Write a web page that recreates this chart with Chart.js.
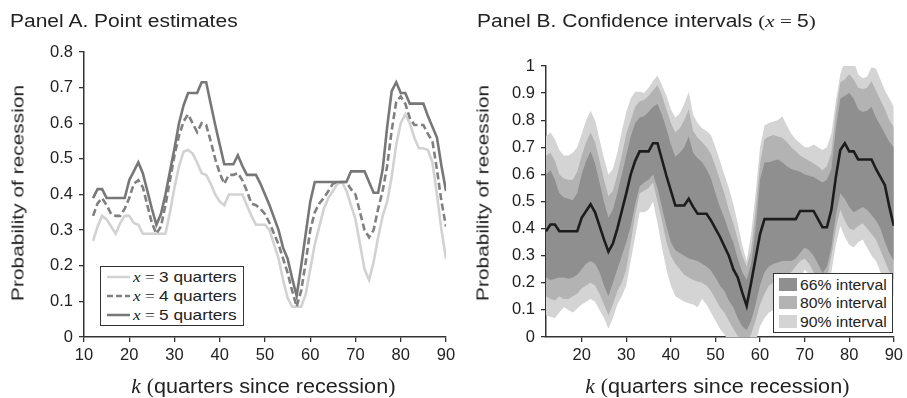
<!DOCTYPE html>
<html>
<head>
<meta charset="utf-8">
<script src="https://cdn.jsdelivr.net/npm/chart.js@4.4.1/dist/chart.umd.min.js"></script>
<style>
  body { margin: 0; background: #fff; }
  #page { position: relative; width: 907px; height: 398px; overflow: hidden;
          font-family: "Liberation Sans", Arial, sans-serif; color: #222; }
  canvas { position: absolute; left: 0; top: 0; }
  .txt { position: absolute; white-space: nowrap; line-height: 1; }
  .m { font-family: "Liberation Serif", "DejaVu Serif", serif; }
  .mi { font-family: "Liberation Serif", "DejaVu Serif", serif; font-style: italic; }
  .legend { position: absolute; background: #fff; border: 1.5px solid #333; box-sizing: border-box; }
  .row { position: absolute; left: 0; right: 0; height: 18px; line-height: 18px; font-size: 15px; white-space: nowrap; }
  .row span.lab { position: absolute; display: inline-block; transform-origin: left center; }
  .sw { position: absolute; left: 5px; top: 2.5px; width: 18px; height: 13px; }
</style>
</head>
<body>
<div id="page">
  <canvas id="chartA" width="907" height="398"></canvas>
  <canvas id="chartB" width="907" height="398"></canvas>

  <div class="txt" style="left:10px; top:13px; font-size:17.5px; transform:scaleX(1.2); transform-origin:left top;">Panel A. Point estimates</div>
  <div class="txt" style="left:477px; top:13px; font-size:17.5px; transform:scaleX(1.2); transform-origin:left top;">Panel B. Confidence intervals <span class="m">(</span><span class="mi">x</span><span class="m"> = </span>5<span class="m">)</span></div>

  <div class="txt" style="left:18px; top:193px; font-size:17px; transform:translate(-50%,-50%) rotate(-90deg) scaleX(1.23);">Probability of recession</div>
  <div class="txt" style="left:483px; top:193px; font-size:17px; transform:translate(-50%,-50%) rotate(-90deg) scaleX(1.23);">Probability of recession</div>

  <div class="txt" style="left:63px; top:376px; width:400px; text-align:center; font-size:20px;"><span style="display:inline-block; transform:scaleX(1.08);"><span class="mi">k</span> <span class="m">(</span>quarters since recession<span class="m">)</span></span></div>
  <div class="txt" style="left:517px; top:376px; width:400px; text-align:center; font-size:20px;"><span style="display:inline-block; transform:scaleX(1.08);"><span class="mi">k</span> <span class="m">(</span>quarters since recession<span class="m">)</span></span></div>

  <div class="legend" style="left:100px; top:266px; width:144px; height:60px;">
    <div class="row" style="top:0.5px;">
      <svg width="23" height="18" style="position:absolute; left:5.5px; top:0;"><line x1="0" y1="9" x2="23" y2="9" stroke="#d2d2d2" stroke-width="2.5"/></svg>
      <span class="lab" style="left:31.5px; transform:scaleX(1.15);"><span class="mi">x</span><span class="m"> = </span>3 quarters</span>
    </div>
    <div class="row" style="top:19.5px;">
      <svg width="23" height="18" style="position:absolute; left:5.5px; top:0;"><line x1="0" y1="9" x2="23" y2="9" stroke="#808080" stroke-width="2.5" stroke-dasharray="6 3"/></svg>
      <span class="lab" style="left:31.5px; transform:scaleX(1.15);"><span class="mi">x</span><span class="m"> = </span>4 quarters</span>
    </div>
    <div class="row" style="top:38.5px;">
      <svg width="23" height="18" style="position:absolute; left:5.5px; top:0;"><line x1="0" y1="9" x2="23" y2="9" stroke="#777777" stroke-width="2.5"/></svg>
      <span class="lab" style="left:31.5px; transform:scaleX(1.15);"><span class="mi">x</span><span class="m"> = </span>5 quarters</span>
    </div>
  </div>

  <div class="legend" style="left:773px; top:273px; width:120px; height:60px;">
    <div class="row" style="top:1.5px;"><div class="sw" style="background:#8f8f8f;"></div><span class="lab" style="left:25.5px; transform:scaleX(1.05);">66% interval</span></div>
    <div class="row" style="top:19.5px;"><div class="sw" style="background:#b3b3b3;"></div><span class="lab" style="left:25.5px; transform:scaleX(1.05);">80% interval</span></div>
    <div class="row" style="top:38.5px;"><div class="sw" style="background:#d4d4d4;"></div><span class="lab" style="left:25.5px; transform:scaleX(1.05);">90% interval</span></div>
  </div>
</div>

<script>
// quarters since recession
const quarters = [12, 13, 14, 15, 16, 17, 18, 19, 20, 21, 22, 23, 24, 25, 26, 27, 28, 29, 30, 31,
    32, 33, 34, 35, 36, 37, 38, 39, 40, 41, 42, 43, 44, 45, 46, 47, 48, 49, 50, 51,
    52, 53, 54, 55, 56, 57, 58, 59, 60, 61, 62, 63, 64, 65, 66, 67, 68, 69, 70, 71,
    72, 73, 74, 75, 76, 77, 78, 79, 80, 81, 82, 83, 84, 85, 86, 87, 88, 89, 90]

// panel A point estimates
let probX3 = [0.27, 0.31, 0.34, 0.33, 0.31, 0.29, 0.32, 0.34, 0.34, 0.32,
    0.315, 0.29, 0.29, 0.29, 0.29, 0.29, 0.29, 0.35, 0.42, 0.48,
    0.52, 0.525, 0.515, 0.49, 0.46, 0.455, 0.43, 0.40, 0.38, 0.37,
    0.40, 0.40, 0.40, 0.40, 0.37, 0.34, 0.315, 0.315, 0.315, 0.30,
    0.26, 0.22, 0.16, 0.11, 0.085, 0.085, 0.085, 0.12, 0.19, 0.26,
    0.31, 0.36, 0.39, 0.41, 0.43, 0.435, 0.41, 0.37, 0.33, 0.26,
    0.19, 0.16, 0.21, 0.28, 0.34, 0.38, 0.45, 0.54, 0.60, 0.625,
    0.60, 0.56, 0.53, 0.53, 0.525, 0.49, 0.40, 0.30, 0.22]
let probX4 = [0.34, 0.375, 0.39, 0.37, 0.345, 0.34, 0.34, 0.36, 0.39, 0.43,
    0.44, 0.42, 0.37, 0.32, 0.29, 0.31, 0.37, 0.44, 0.51, 0.565,
    0.605, 0.625, 0.60, 0.575, 0.60, 0.595, 0.55, 0.50, 0.46, 0.43,
    0.455, 0.455, 0.46, 0.44, 0.41, 0.375, 0.37, 0.36, 0.345, 0.32,
    0.29, 0.26, 0.22, 0.18, 0.13, 0.085, 0.13, 0.21, 0.30, 0.35,
    0.375, 0.39, 0.41, 0.43, 0.435, 0.435, 0.435, 0.415, 0.40, 0.35,
    0.30, 0.28, 0.30, 0.36, 0.41, 0.48, 0.58, 0.66, 0.675, 0.655,
    0.615, 0.595, 0.595, 0.595, 0.57, 0.55, 0.47, 0.38, 0.31]
let probX5 = [0.39, 0.415, 0.415, 0.39, 0.39, 0.39, 0.39, 0.39, 0.44, 0.465,
    0.49, 0.46, 0.41, 0.36, 0.315, 0.345, 0.40, 0.465, 0.53, 0.60,
    0.65, 0.685, 0.685, 0.685, 0.715, 0.715, 0.655, 0.595, 0.54, 0.485,
    0.485, 0.485, 0.51, 0.48, 0.455, 0.455, 0.455, 0.43, 0.40, 0.37,
    0.335, 0.30, 0.25, 0.22, 0.165, 0.115, 0.20, 0.29, 0.38, 0.435,
    0.435, 0.435, 0.435, 0.435, 0.435, 0.435, 0.435, 0.465, 0.465, 0.465,
    0.465, 0.435, 0.405, 0.405, 0.47, 0.59, 0.69, 0.715, 0.685, 0.685,
    0.655, 0.655, 0.655, 0.655, 0.62, 0.59, 0.56, 0.48, 0.41]

// panel B interval bounds (x = 5)
let upper90 = [0.74, 0.755, 0.73, 0.69, 0.67, 0.67, 0.68, 0.70, 0.75, 0.80,
    0.835, 0.80, 0.73, 0.66, 0.60, 0.62, 0.68, 0.76, 0.83, 0.88,
    0.905, 0.905, 0.90, 0.92, 0.945, 0.965, 0.93, 0.89, 0.84, 0.81,
    0.825, 0.86, 0.905, 0.82, 0.79, 0.77, 0.76, 0.745, 0.70, 0.65,
    0.60, 0.55, 0.49, 0.42, 0.34, 0.28, 0.38, 0.53, 0.70, 0.78,
    0.79, 0.795, 0.80, 0.815, 0.78, 0.75, 0.73, 0.715, 0.70, 0.70,
    0.71, 0.70, 0.69, 0.70, 0.75, 0.87, 0.97, 1.02, 1.02, 1.02,
    0.97, 0.955, 0.96, 0.995, 0.99, 0.95, 0.91, 0.88, 0.85]
let upper80 = [0.67, 0.68, 0.65, 0.60, 0.585, 0.58, 0.58, 0.61, 0.67, 0.72,
    0.755, 0.72, 0.65, 0.58, 0.52, 0.54, 0.60, 0.67, 0.75, 0.80,
    0.85, 0.87, 0.875, 0.89, 0.91, 0.93, 0.89, 0.84, 0.79, 0.755,
    0.77, 0.80, 0.84, 0.76, 0.735, 0.72, 0.70, 0.675, 0.63, 0.58,
    0.53, 0.47, 0.42, 0.36, 0.30, 0.26, 0.32, 0.47, 0.64, 0.73,
    0.74, 0.745, 0.74, 0.735, 0.72, 0.70, 0.685, 0.67, 0.66, 0.65,
    0.64, 0.63, 0.615, 0.63, 0.68, 0.83, 0.94, 0.95, 0.97, 0.95,
    0.92, 0.915, 0.92, 0.945, 0.91, 0.875, 0.84, 0.80, 0.775]
let upper66 = [0.60, 0.615, 0.58, 0.53, 0.515, 0.51, 0.505, 0.53, 0.60, 0.65,
    0.685, 0.64, 0.57, 0.50, 0.44, 0.47, 0.53, 0.60, 0.67, 0.74,
    0.79, 0.81, 0.815, 0.83, 0.85, 0.86, 0.82, 0.77, 0.71, 0.665,
    0.68, 0.70, 0.74, 0.68, 0.66, 0.645, 0.62, 0.585, 0.53, 0.48,
    0.44, 0.39, 0.35, 0.29, 0.24, 0.21, 0.27, 0.40, 0.58, 0.645,
    0.645, 0.65, 0.655, 0.645, 0.63, 0.62, 0.615, 0.61, 0.60, 0.595,
    0.59, 0.58, 0.57, 0.58, 0.62, 0.77, 0.88, 0.89, 0.90, 0.88,
    0.84, 0.83, 0.835, 0.85, 0.81, 0.78, 0.75, 0.72, 0.70]
let lower66 = [0.22, 0.21, 0.215, 0.22, 0.22, 0.215, 0.22, 0.23, 0.25, 0.27,
    0.28, 0.27, 0.24, 0.19, 0.15, 0.20, 0.25, 0.30, 0.35, 0.41,
    0.49, 0.555, 0.57, 0.58, 0.60, 0.55, 0.48, 0.41, 0.35, 0.32,
    0.31, 0.30, 0.29, 0.285, 0.28, 0.27, 0.26, 0.245, 0.22, 0.19,
    0.17, 0.135, 0.11, 0.07, 0.04, 0.025, 0.06, 0.12, 0.19, 0.24,
    0.26, 0.27, 0.275, 0.28, 0.28, 0.28, 0.29, 0.31, 0.33, 0.32,
    0.30, 0.27, 0.235, 0.26, 0.33, 0.45, 0.53, 0.51, 0.48, 0.46,
    0.47, 0.48, 0.47, 0.45, 0.43, 0.40, 0.35, 0.31, 0.28]
let lower80 = [0.15, 0.14, 0.135, 0.15, 0.14, 0.14, 0.15, 0.16, 0.18, 0.19,
    0.20, 0.19, 0.16, 0.12, 0.08, 0.12, 0.17, 0.20, 0.25, 0.35,
    0.45, 0.53, 0.54, 0.55, 0.57, 0.50, 0.43, 0.35, 0.30, 0.27,
    0.25, 0.23, 0.22, 0.21, 0.205, 0.20, 0.19, 0.17, 0.14, 0.11,
    0.09, 0.06, 0.03, 0.005, -0.01, -0.02, 0.01, 0.06, 0.12, 0.16,
    0.19, 0.20, 0.21, 0.22, 0.23, 0.24, 0.26, 0.28, 0.29, 0.27,
    0.24, 0.22, 0.20, 0.22, 0.30, 0.40, 0.47, 0.43, 0.40, 0.395,
    0.41, 0.42, 0.40, 0.38, 0.36, 0.32, 0.28, 0.24, 0.21]
let lower90 = [0.08, 0.075, 0.07, 0.09, 0.11, 0.10, 0.09, 0.105, 0.12, 0.13,
    0.14, 0.13, 0.10, 0.07, 0.03, 0.07, 0.12, 0.15, 0.19, 0.28,
    0.37, 0.46, 0.46, 0.47, 0.50, 0.42, 0.33, 0.25, 0.19, 0.15,
    0.14, 0.13, 0.125, 0.12, 0.11, 0.14, 0.12, 0.09, 0.06, 0.03,
    0.01, -0.02, -0.05, -0.07, -0.08, -0.08, -0.06, -0.02, 0.04, 0.07,
    0.09, 0.10, 0.11, 0.12, 0.13, 0.14, 0.17, 0.21, 0.25, 0.23,
    0.19, 0.16, 0.14, 0.16, 0.24, 0.34, 0.41, 0.37, 0.34, 0.33,
    0.35, 0.36, 0.33, 0.30, 0.28, 0.24, 0.20, 0.17, 0.15]

// tick labels
let xTicksA = [10, 20, 30, 40, 50, 60, 70, 80, 90]
let yTicksA = [0, 0.1, 0.2, 0.3, 0.4, 0.5, 0.6, 0.7, 0.8]
let xTicksB = [20, 30, 40, 50, 60, 70, 80, 90]
let yTicksB = [0, 0.1, 0.2, 0.3, 0.4, 0.5, 0.6, 0.7, 0.8, 0.9, 1]

let axisColor = '#333'
let tickFont = { family: '"Liberation Sans", Arial, sans-serif', size: 16.5 }

function points(values) {
    return quarters.map((k, i) => ({ x: k, y: values[i] }))
}

function axis(min, max, values, isX, size) {
    return {
        type: 'linear', min: min, max: max,
        afterBuildTicks: s => { s.ticks = values.map(v => ({ value: v })) },
        afterFit: s => { if (isX) s.height = size; else s.width = size },
        grid: { drawOnChartArea: false, drawTicks: true, tickLength: 5, color: axisColor, lineWidth: 1.3 },
        border: { display: true, color: axisColor, width: 1.5 },
        ticks: {
            color: '#222', font: tickFont, padding: isX ? 4 : 6,
            maxRotation: 0, autoSkip: false,
            callback: v => String(Math.round(v * 10) / 10)
        }
    }
}

function lineSet(values, color, width, dash) {
    return {
        data: points(values), borderColor: color, borderWidth: width,
        borderDash: dash || [], pointRadius: 0, fill: false, tension: 0
    }
}

function bandEdge(values, color) {
    return {
        data: points(values), borderColor: 'rgba(0,0,0,0)', borderWidth: 0,
        backgroundColor: color, pointRadius: 0, tension: 0,
        fill: color ? '+1' : false
    }
}

let common = {
    responsive: false, animation: false, devicePixelRatio: 1,
    plugins: { legend: { display: false }, tooltip: { enabled: false } }
}

// Panel A
new Chart(document.querySelector('#chartA'), {
    type: 'line',
    data: {
        datasets: [
            lineSet(probX5, '#777777', 2.6),
            lineSet(probX4, '#808080', 2.6, [7, 3.5]),
            lineSet(probX3, '#d2d2d2', 2.6)
        ]
    },
    options: Object.assign({}, common, {
        layout: { autoPadding: false, padding: { left: 0, right: 461, top: 52, bottom: 0 } },
        scales: {
            x: axis(10, 90, xTicksA, true, 61),
            y: axis(0, 0.8, yTicksA, false, 84)
        }
    })
})

// Panel B: index 0 is drawn last, so the widest band goes at the end
new Chart(document.querySelector('#chartB'), {
    type: 'line',
    data: {
        datasets: [
            lineSet(probX5, '#1c1c1c', 2.6),
            bandEdge(upper66, '#8f8f8f'),
            bandEdge(lower66),
            bandEdge(upper80, '#b3b3b3'),
            bandEdge(lower80),
            bandEdge(upper90, '#d4d4d4'),
            bandEdge(lower90)
        ]
    },
    options: Object.assign({}, common, {
        layout: { autoPadding: false, padding: { left: 486, right: 10, top: 66, bottom: 0 } },
        scales: {
            x: axis(12, 90, xTicksB, true, 61),
            y: axis(0, 1, yTicksB, false, 60)
        }
    })
})
</script>
</body>
</html>
